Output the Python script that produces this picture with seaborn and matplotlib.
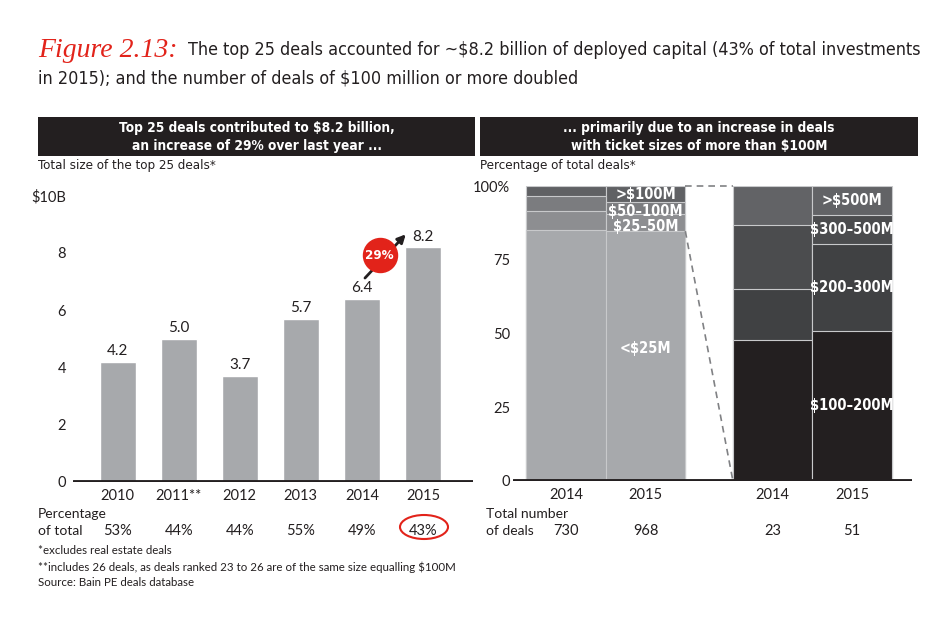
import pandas as pd
import matplotlib.pyplot as plt
import seaborn as sns
from matplotlib.patches import Rectangle, Ellipse

# left panel: total size of the top 25 deals ($B)
years = ["2010", "2011**", "2012", "2013", "2014", "2015"]
top25_size = [4.2, 5.0, 3.7, 5.7, 6.4, 8.2]
pct_of_total = ["53%", "44%", "44%", "55%", "49%", "43%"]

# right panel: share of deals by ticket size (%)
bar_years = ["2014", "2015", "2014", "2015"]
small_labels = ["<$25M", "$25–50M", "$50–100M", ">$100M"]
small_2014 = [85.1, 6.5, 5.0, 3.4]
small_2015 = [84.7, 5.7, 4.1, 5.5]
large_labels = ["$100–200M", "$200–300M", "$300–500M", ">$500M"]
large_2014 = [47.8, 17.4, 21.7, 13.1]
large_2015 = [51.0, 29.4, 9.8, 9.8]
deal_counts = ["730", "968", "23", "51"]

bar_pos = [0, 1, 2.6, 3.6]  # gap between the two groups

W, H = 950, 622
DARK = "#231f20"
RED = "#e2231a"
NARROW = dict(family="DejaVu Sans", fontstretch="condensed")

sns.set_style("white")
plt.rcParams["font.family"] = ["Lato", "DejaVu Sans"]
plt.rcParams["text.color"] = DARK


def fy(y):
    return 1 - y / H


def fx(x):
    return x / W


fig = plt.figure(figsize=(9.5, 6.22), dpi=100)

# title
fig.text(fx(38), fy(57), "Figure 2.13:", color=RED, fontsize=20, fontstyle="italic",
         family="Liberation Serif", va="baseline")
t1 = fig.text(fx(188), fy(55), "The top 25 deals accounted for ~$8.2 billion of deployed capital (43% of total investments",
              fontsize=13.5, va="baseline", **NARROW)
t2 = fig.text(fx(38), fy(84), "in 2015); and the number of deals of $100 million or more doubled",
              fontsize=13.5, va="baseline", **NARROW)
# squeeze the title to the reference line width
r = fig.canvas.get_renderer()
scale = 730 / t1.get_window_extent(r).width
for t in (t1, t2):
    t.set_fontsize(13.5 * min(scale, 1.0))

# header boxes
for x0, x1, txt in [(38, 475, "Top 25 deals contributed to $8.2 billion,\nan increase of 29% over last year ..."),
                    (480, 918, "... primarily due to an increase in deals\nwith ticket sizes of more than $100M")]:
    fig.patches.append(Rectangle((fx(x0), fy(156)), fx(x1 - x0), 39 / H, transform=fig.transFigure,
                                 facecolor=DARK, edgecolor="none"))
    fig.text(fx((x0 + x1) / 2), fy(137), txt, color="white", fontsize=9.8, fontweight="bold",
             ha="center", va="center", linespacing=1.35, **NARROW)

fig.text(fx(38), fy(166), "Total size of the top 25 deals*", fontsize=9.5, va="center", **NARROW)
fig.text(fx(480), fy(166), "Percentage of total deals*", fontsize=9.5, va="center", **NARROW)

# ---- left chart
ax1 = fig.add_axes([fx(73), fy(481.7), fx(400), 286 / H])
sns.barplot(x=years, y=top25_size, color="#a7a9ac", width=0.59, saturation=1, errorbar=None, ax=ax1)
ax1.set_xlim(-0.73, 5.82)
ax1.set_ylim(0, 10)
ax1.set_yticks([0, 2, 4, 6, 8, 10])
ax1.set_yticklabels(["0", "2", "4", "6", "8", "$10B"])
for i, v in enumerate(top25_size):
    ax1.text(i, v + 0.12, f"{v:.1f}", ha="center", va="bottom", fontsize=11)
ax1.axhline(0, color=DARK, lw=3.5)

# growth arrow + bubble
ax1.annotate("", xy=(4.75, 8.72), xytext=(4.02, 7.05),
             arrowprops=dict(arrowstyle="-|>", color=DARK, lw=2, mutation_scale=12))
ax1.scatter([4.29], [7.92], s=600, color=RED, zorder=5)
ax1.text(4.29, 7.92, "29%", color="white", fontweight="bold", fontsize=9.5,
         ha="center", va="center", zorder=6, **NARROW)

# ---- right chart
ax2 = fig.add_axes([fx(513), fy(481), fx(399), 295 / H])
rows = []
for pos, yr, vals, labs, grp in zip(bar_pos, bar_years, [small_2014, small_2015, large_2014, large_2015],
                                    [small_labels, small_labels, large_labels, large_labels],
                                    ["small", "small", "large", "large"]):
    cum = 0
    for k, (v, lab) in enumerate(zip(vals, labs)):
        rows.append(dict(pos=pos, year=yr, group=grp, level=k, segment=lab, value=v, bottom=cum, top=cum + v))
        cum += v
df = pd.DataFrame(rows)

small_colors = ["#a7a9ac", "#8d8e91", "#7b7c7f", "#606164"]
large_colors = [DARK, "#404143", "#4b4c4e", "#626366"]

# stacked by overdrawing the cumulative totals, top level first
for k in [3, 2, 1, 0]:
    for grp, cols in [("small", small_colors), ("large", large_colors)]:
        d = df[(df.group == grp) & (df.level == k)]
        sns.barplot(data=d, x="pos", y="top", native_scale=True, width=1, color=cols[k], saturation=1,
                    errorbar=None, edgecolor="#c8c9cb", linewidth=0.8, ax=ax2)

ax2.set_xlim(-0.67, 4.355)
ax2.set_ylim(0, 100)
ax2.set_yticks([0, 25, 50, 75, 100])
ax2.set_yticklabels(["0", "25", "50", "75", "100%"])
ax2.set_xticks(bar_pos)
ax2.set_xticklabels(bar_years)
ax2.axhline(0, color=DARK, lw=3.5)

# segment labels on the 2015 bars
seg15 = df[df.year == "2015"]
for _, r in seg15.iterrows():
    y = (r.bottom + r.top) / 2
    if r.segment == "<$25M":
        y = 45
    elif r.segment in ("$50–100M", "$25–50M"):
        y -= 1.2
    ax2.text(r.pos, y, r.segment, color="white", fontweight="bold", fontsize=10.5,
             ha="center", va="center", **NARROW)

# dashed connectors
ax2.plot([1.5, 2.1], [100, 100], ls=(0, (4, 3)), color="#808184", lw=1.2, clip_on=False)
ax2.plot([1.5, 2.1], [small_2015[0], 0], ls=(0, (4, 3)), color="#808184", lw=1.2, clip_on=False)

for ax, pad in [(ax1, 5), (ax2, 2)]:
    sns.despine(ax=ax, left=True, bottom=True)
    ax.set_xlabel("")
    ax.set_ylabel("")
    ax.tick_params(axis="both", length=0, labelsize=10.5, colors=DARK)
    ax.tick_params(axis="y", pad=pad)
    ax.tick_params(axis="x", pad=5)

# bottom rows
fig.text(fx(38), fy(514), "Percentage", fontsize=10, va="center")
fig.text(fx(38), fy(531), "of total", fontsize=10, va="center")
for i, p in enumerate(pct_of_total):
    xd = ax1.transData.transform((i, 0))[0]
    fig.text(xd / W, fy(531), p, fontsize=10.5, ha="center", va="center")
fig.patches.append(Ellipse((fx(424), fy(527)), fx(48), 24 / H, angle=0, transform=fig.transFigure,
                           facecolor="none", edgecolor=RED, lw=1.5))

fig.text(fx(486), fy(514), "Total number", fontsize=10, va="center")
fig.text(fx(486), fy(531), "of deals", fontsize=10, va="center")
for pos, n in zip(bar_pos, deal_counts):
    xd = ax2.transData.transform((pos, 0))[0]
    fig.text(xd / W, fy(531), n, fontsize=10.5, ha="center", va="center")

fig.text(fx(38), fy(551), "*excludes real estate deals", fontsize=8.3, va="center")
fig.text(fx(38), fy(567), "**includes 26 deals, as deals ranked 23 to 26 are of the same size equalling $100M",
         fontsize=8.3, va="center")
fig.text(fx(38), fy(582), "Source: Bain PE deals database", fontsize=8.3, va="center")

fig.savefig("out.png", dpi=100)
